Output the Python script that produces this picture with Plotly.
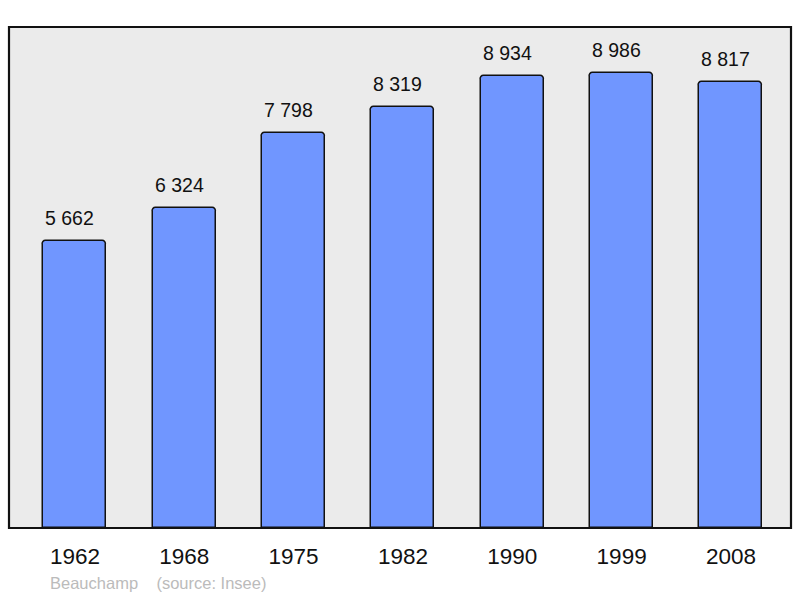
import plotly.graph_objects as go

years = ["1962", "1968", "1975", "1982", "1990", "1999", "2008"]
population = [5662, 6324, 7798, 8319, 8934, 8986, 8817]
value_labels = ["5 662", "6 324", "7 798", "8 319", "8 934", "8 986", "8 817"]

FONT = "Liberation Sans, Arial, sans-serif"

fig = go.Figure()
fig.add_trace(go.Bar(
    x=list(range(len(years))), y=population, width=0.576,
    marker=dict(color="#7096ff", line=dict(color="#111111", width=1.5)),
    hoverinfo="skip",
))

for i, (v, lab) in enumerate(zip(population, value_labels)):
    fig.add_annotation(x=i, y=v, text=lab, showarrow=False, yanchor="bottom",
                       yshift=10, xshift=-5, font=dict(family=FONT, size=19.5, color="#111"))

fig.add_shape(type="rect", xref="paper", yref="paper", x0=0, y0=0, x1=1, y1=1,
              line=dict(color="#111", width=2.2), layer="above")

fig.add_annotation(xref="paper", yref="paper", x=(48 - 9) / 782, y=-(583 - 528) / 501,
                   xanchor="left", yanchor="middle",
                   text="Beauchamp\u00a0\u00a0\u00a0\u00a0(source: Insee)", showarrow=False,
                   font=dict(family=FONT, size=16.5, color="#bbbbbb"))

fig.update_layout(
    width=800, height=598,
    margin=dict(l=9, r=9, t=27, b=70),
    paper_bgcolor="white", plot_bgcolor="#ebebeb",
    showlegend=False, bargap=0,
    barcornerradius=4,
    xaxis=dict(range=[-0.603, 6.549], tickmode="array", tickvals=list(range(len(years))),
               ticktext=years, showgrid=False, zeroline=False, ticks="outside", ticklen=8,
               tickcolor="rgba(0,0,0,0)", fixedrange=True,
               tickfont=dict(family=FONT, size=22.5, color="#111")),
    yaxis=dict(range=[0, 9894], showgrid=False, zeroline=False, showticklabels=False, fixedrange=True),
)

fig.write_html("out.html", config={"displayModeBar": False},
               post_script="document.body.style.margin='0';")
